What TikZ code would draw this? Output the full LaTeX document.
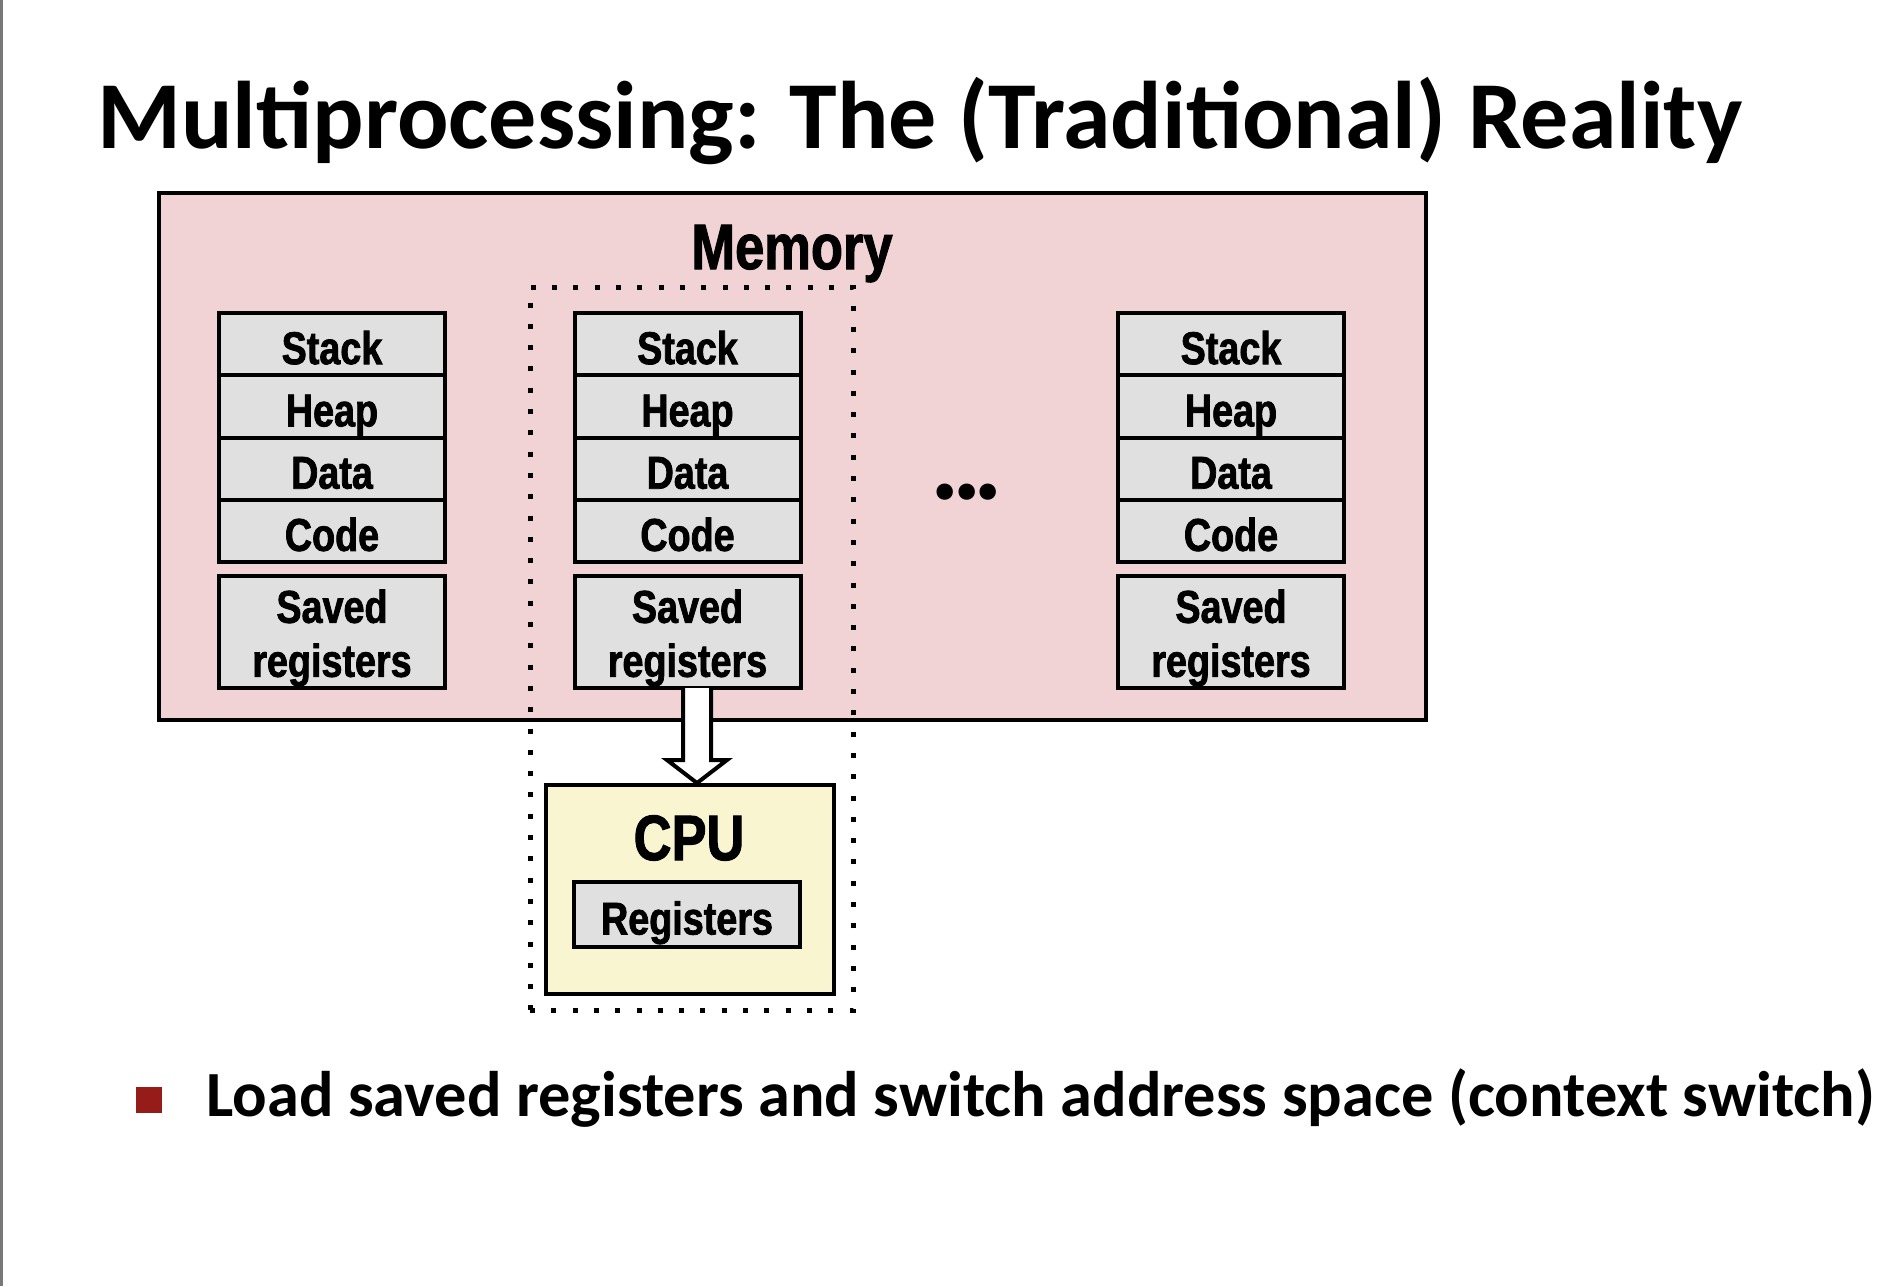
\documentclass[tikz,border=0pt]{standalone}
\usepackage{fontspec}
\setmainfont{Carlito}
\newfontfamily\boxfont[FakeStretch=0.82, FakeBold=1.6, UprightFont={* Bold}, BoldFont={* Bold}]{Liberation Sans}
\usetikzlibrary{calc}
\definecolor{memfill}{RGB}{242,211,213}
\definecolor{boxgray}{RGB}{224,224,224}
\definecolor{cpufill}{RGB}{249,245,209}
\definecolor{bulletred}{RGB}{150,28,25}
\definecolor{edgegray}{RGB}{120,120,120}
\tikzset{
  seg/.style={draw, line width=2pt, fill=boxgray, minimum width=113pt, minimum height=31.125pt,
    inner sep=0pt, outer sep=0pt, font=\boxfont\fontsize{23}{27}\selectfont,
    text height=20pt, text depth=0pt},
  savedbox/.style={draw, line width=2pt, fill=boxgray, minimum width=113pt, minimum height=56pt,
    inner sep=0pt, outer sep=0pt},
  savedtxt/.style={align=center, inner sep=0pt, font=\boxfont\fontsize{23}{27}\selectfont},
  membox/.style={draw, line width=2pt, fill=memfill, minimum width=633.5pt, minimum height=263.5pt,
    inner sep=0pt, outer sep=0pt},
  dotbox/.style={draw, line width=2.5pt, dash pattern=on 2.5pt off 8.15pt, minimum width=161.5pt,
    minimum height=361.5pt, inner sep=0pt, outer sep=0pt},
  cpubox/.style={draw, line width=2pt, fill=cpufill, minimum width=144pt, minimum height=104.5pt,
    inner sep=0pt, outer sep=0pt},
  bigl/.style={anchor=base, inner sep=0pt, font=\boxfont\fontsize{32}{36}\selectfont},
  blockarrow/.style={line width=2pt, miter limit=10}
}
\begin{document}
\begin{tikzpicture}[x=0.5pt,y=-0.5pt]
\useasboundingbox (0,0) rectangle (1900,1286);
\fill[white] (0,0) rectangle (1900,1286);
\fill[edgegray] (0,0) rectangle (2.5,1286);

% title
\node[anchor=base west, inner sep=0pt, font=\bfseries\fontsize{48}{56}\selectfont] (title) at (97,148)
  {Multiprocessing: The (Traditional) Reality};

% memory
\node[membox] (mem) at (792.5,456.5) {};
\node[bigl] (memlbl) at (792,269) {Memory};

% process boundary
\node[dotbox] (proc) at (691.5,648.5) {};

% columns
\foreach \c/\x in {1/332,2/687.5,3/1231}{
  \node[seg] (st\c) at (\x,344.125) {Stack};
  \node[seg] (hp\c) at (\x,406.375) {Heap};
  \node[seg] (dt\c) at (\x,468.625) {Data};
  \node[seg] (cd\c) at (\x,530.875) {Code};
  \node[savedbox] (s\c) at (\x,632) {};
  \node[savedtxt] (s\c t) at ([yshift=-3pt]s\c.center) {Saved\\registers};
}

% ellipsis
\node[inner sep=0pt, font=\bfseries\fontsize{55}{55}\selectfont] (dots) at (967,492) {.\kern-4pt.\kern-4pt.};

% CPU
\node[cpubox] (cpu) at (690,889.5) {};
\node[bigl] (cpulbl) at (689,860) {CPU};
\node[seg, minimum height=32.5pt] (regs) at (687,914.5) {Registers};

% block arrow from saved registers to CPU
\coordinate (at) at ($(s2.south)+(9.5,0)$);
\coordinate (tp) at (at |- cpu.north);
\fill[white] ($(at)+(-14,0)$) -- ($(tp)+(-14,-25)$) -- ($(tp)+(-30,-25)$) -- ($(tp)+(0,-2)$)
  -- ($(tp)+(30,-25)$) -- ($(tp)+(14,-25)$) -- ($(at)+(14,0)$) -- cycle;
\draw[blockarrow] ($(at)+(-14,0)$) -- ($(tp)+(-14,-25)$) -- ($(tp)+(-30,-25)$) -- ($(tp)+(0,-2)$)
  -- ($(tp)+(30,-25)$) -- ($(tp)+(14,-25)$) -- ($(at)+(14,0)$);

% bullet
\node[fill=bulletred, minimum size=13pt, inner sep=0pt] (bsq) at (149,1100) {};
\node[anchor=base west, inner sep=0pt, font=\bfseries\fontsize{32.2}{40}\selectfont] (btxt) at (206,1116)
  {Load saved registers and switch address space (context switch)};
\end{tikzpicture}
\end{document}
